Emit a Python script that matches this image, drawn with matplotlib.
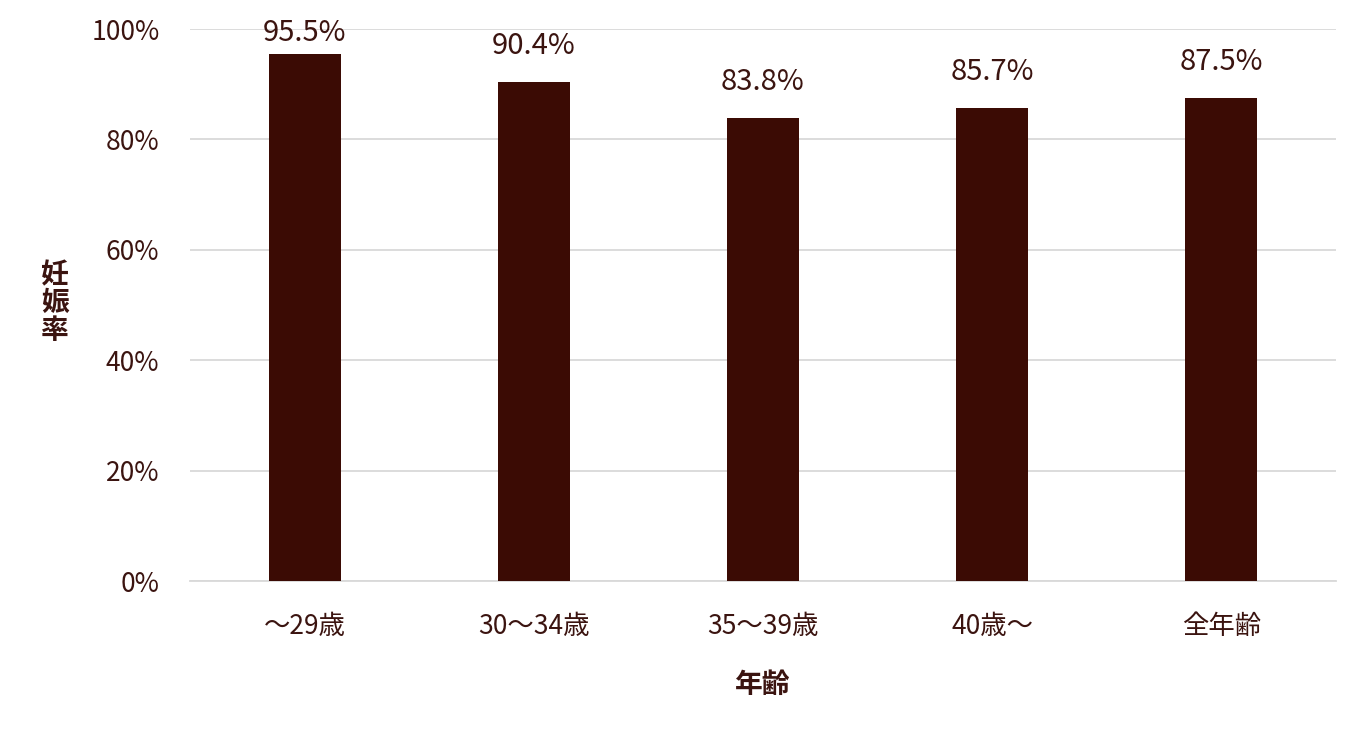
import matplotlib
matplotlib.use("Agg")
import matplotlib.pyplot as plt

plt.rcParams['font.family'] = ['Noto Sans CJK JP', 'DejaVu Sans']

categories = ["～29歳", "30～34歳", "35～39歳", "40歳～", "全年齢"]
rates = [95.5, 90.4, 83.8, 85.7, 87.5]
yticks = [0, 20, 40, 60, 80, 100]

bar_color = "#3b0b04"
text_color = "#3b1410"

fig = plt.figure(figsize=(13.6, 7.39), dpi=100)
ax = fig.add_axes([190 / 1360, 1 - 581 / 739, 1146 / 1360, 552 / 739])

x = range(len(categories))
bars = ax.bar(x, rates, width=0.315, color=bar_color, zorder=3)
for b, v in zip(bars, rates):
    # label sits above the bar, but is kept inside the plot top
    ly = min(v + 6.6, 99.3)
    ax.text(b.get_x() + b.get_width() / 2, ly, f"{v:.1f}%",
            ha="center", va="center", fontsize=21, color=text_color, zorder=4)

ax.set_xlim(-0.5, len(categories) - 0.5)
ax.set_ylim(0, 100)
ax.set_yticks(yticks)
ax.set_yticklabels([f"{t}%" for t in yticks], fontsize=19, color=text_color)
ax.set_xticks(list(x))
ax.set_xticklabels(categories, fontsize=19, color=text_color)
ax.tick_params(length=0, pad=22)
ax.tick_params(axis="x", pad=23)
ax.grid(axis="y", color="#d9d9d9", linewidth=1.3, zorder=0)
for s in ["top", "right", "left"]:
    ax.spines[s].set_visible(False)
ax.spines["bottom"].set_color("#d9d9d9")
ax.spines["bottom"].set_linewidth(1.3)

ax.set_xlabel("年齢", fontsize=20, fontweight="bold", color=text_color, labelpad=22)
fig.text(55 / 1360, 1 - 303 / 739, "妊\n娠\n率", fontsize=20, fontweight="bold",
         color=text_color, ha="center", va="center", linespacing=1.0)

fig.savefig("out.png", dpi=100)
